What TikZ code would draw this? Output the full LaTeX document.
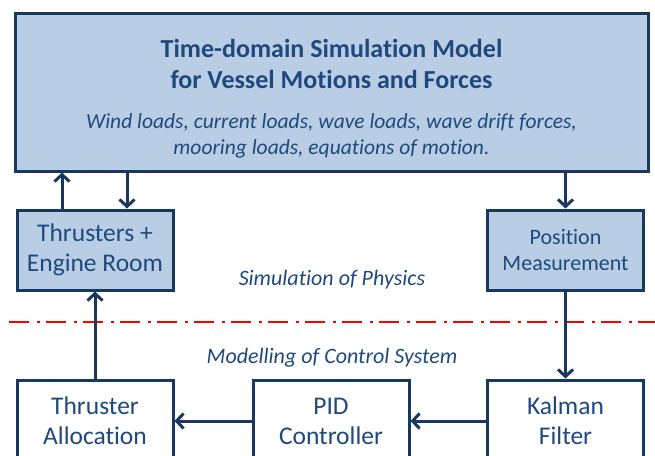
\documentclass[tikz,border=0pt]{standalone}
\usepackage{fontspec}
\setmainfont{Carlito}[Ligatures=NoCommon]
\usetikzlibrary{arrows.meta,positioning}
\definecolor{navy}{RGB}{26,55,96}
\definecolor{boxblue}{RGB}{185,205,229}
\definecolor{txtblue}{RGB}{31,73,125}
\tikzset{
  block/.style={draw=navy, line width=3pt, fill=boxblue, text=txtblue, align=center,
    inner sep=0pt, minimum width=156pt, minimum height=80pt,
    font=\fontsize{25.5}{30}\selectfont},
  ctrl/.style={block, fill=white},
  link/.style={draw=navy, line width=3pt, -{Straight Barb[length=7pt,width=15pt]}},
  region/.style={text=txtblue, font=\itshape\fontsize{22}{26}\selectfont},
  sepline/.style={draw=red, line width=2.8pt, dash pattern=on 20pt off 8pt on 3pt off 6pt},
}
\begin{document}
\begin{tikzpicture}[x=1pt,y=-1pt]
    \useasboundingbox (0,0) rectangle (655,455);
    % physics part
    \node[block, minimum width=633pt, minimum height=158pt] (model) at (331.5,92) {};
    \node[text=txtblue, align=center, font=\bfseries\fontsize{26}{31}\selectfont] (title) at (331.5,64)
        {Time-domain Simulation Model\\for Vessel Motions and Forces};
    \node[region, align=center, font=\itshape\fontsize{21.5}{26}\selectfont] (loads) at (331.5,136)
        {Wind loads, current loads, wave loads, wave drift forces,\\mooring loads, equations of motion.};
    \node[block] (thr) at (95,250) {Thrusters +\\Engine Room};
    \node[block, font=\fontsize{22}{26}\selectfont] (pos) at (565.5,250) {Position\\Measurement};
    \node[region] (phys) at (332,280) {Simulation of Physics};
    % separation
    \coordinate (sepL) at (9,322);
    \coordinate (sepR) at (655,322);
    \draw[sepline] (sepL) -- (sepR);
    % control part
    \node[region] (ctrlsys) at (332,358) {Modelling of Control System};
    \node[ctrl, minimum height=82pt] (alloc) at (95,421) {Thruster\\Allocation};
    \node[ctrl, minimum height=82pt] (pid) at (331,421) {PID\\Controller};
    \node[ctrl, minimum height=82pt] (kal) at (565.5,421) {Kalman\\Filter};
    % connections
    \draw[link] ([xshift=-33pt]thr.north) -- ([xshift=-33pt]thr.north |- model.south);
    \draw[link] ([xshift=32pt]thr.north |- model.south) -- ([xshift=32pt]thr.north);
    \draw[link] (pos.north |- model.south) -- (pos.north);
    \draw[link] (pos.south) -- (kal.north);
    \draw[link] (kal.west) -- (pid.east);
    \draw[link] (pid.west) -- (alloc.east);
    \draw[link] (alloc.north) -- (thr.south);
\end{tikzpicture}
\end{document}
